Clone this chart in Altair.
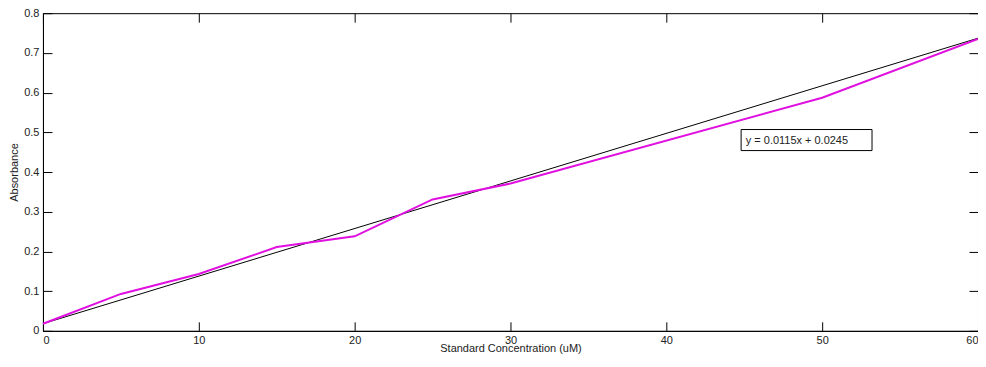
import altair as alt
import pandas as pd

# Measured standard curve (magenta)
conc = [0, 5, 10, 15, 20, 25, 30, 50, 60]
absorb = [0.018, 0.093, 0.143, 0.211, 0.238, 0.331, 0.371, 0.587, 0.735]

# Fitted straight line (black), as drawn
fit_x = [0, 60]
fit_y = [0.018, 0.737]

# Equation annotation
note_text = ["y = 0.0115x + 0.0245"]
note_x = [45.1]
note_y = [0.479]
box_x1 = [44.8]
box_x2 = [53.2]
box_y1 = [0.454]
box_y2 = [0.507]

x_ticks = [0, 10, 20, 30, 40, 50, 60]
y_ticks = [0, 0.1, 0.2, 0.3, 0.4, 0.5, 0.6, 0.7, 0.8]

W, H = 936, 318
FONT = "Liberation Sans"

meas = pd.DataFrame({"x": conc, "y": absorb})
fit = pd.DataFrame({"x": fit_x, "y": fit_y})
note = pd.DataFrame({"x": note_x, "y": note_y, "t": note_text,
                     "x1": box_x1, "x2": box_x2, "y1": box_y1, "y2": box_y2})

xs = alt.Scale(domain=[0, 60], nice=False, zero=False)
ys = alt.Scale(domain=[0, 0.8], nice=False, zero=False)

main_x_axis = alt.Axis(values=x_ticks, format="d", ticks=False, grid=False,
                       domainColor="black", labelPadding=4, labelFont=FONT,
                       labelFontSize=11, labelColor="#222", title="Standard Concentration (uM)",
                       titleFont=FONT, titleFontSize=11, titleFontWeight="normal",
                       titleColor="#222", titlePadding=-3)
main_y_axis = alt.Axis(values=y_ticks, format=".1~f", ticks=False, grid=False,
                       domainColor="black", labelPadding=4, labelFont=FONT,
                       labelFontSize=11, labelColor="#222", title="Absorbance",
                       titleFont=FONT, titleFontSize=11, titleFontWeight="normal",
                       titleColor="#222", titlePadding=4)


def tick_axis(values, orient, offset):
    return alt.Axis(values=values, orient=orient, offset=offset, labels=False,
                    domain=False, grid=False, ticks=True, tickSize=9,
                    tickColor="black", tickWidth=1, title=None)


fit_layer = alt.Chart(fit).mark_line(color="black", strokeWidth=1).encode(
    x=alt.X("x:Q", scale=xs, axis=main_x_axis),
    y=alt.Y("y:Q", scale=ys, axis=main_y_axis),
)

meas_layer = alt.Chart(meas).mark_line(color="#e010e0", strokeWidth=2).encode(
    x=alt.X("x:Q", scale=xs, axis=tick_axis(x_ticks, "bottom", -H)),
    y=alt.Y("y:Q", scale=ys, axis=tick_axis(y_ticks, "left", -W)),
)

box_layer = alt.Chart(note).mark_rect(fill="white", stroke="black", strokeWidth=1).encode(
    x=alt.X("x1:Q", scale=xs, axis=tick_axis(x_ticks, "top", -H)),
    x2="x2:Q",
    y=alt.Y("y1:Q", scale=ys, axis=tick_axis(y_ticks, "right", -W)),
    y2="y2:Q",
)

text_layer = alt.Chart(note).mark_text(align="left", baseline="middle", font=FONT,
                                       fontSize=11, color="#222").encode(
    x=alt.X("x:Q", scale=xs, axis=None),
    y=alt.Y("y:Q", scale=ys, axis=None),
    text="t:N",
)

chart = alt.layer(fit_layer, meas_layer, box_layer, text_layer).resolve_axis(
    x="independent", y="independent"
).properties(
    width=W, height=H,
    autosize=alt.AutoSizeParams(type="none"),
    padding={"left": 35, "top": 5, "right": 0, "bottom": 26},
).configure_view(stroke="black", strokeWidth=1)

chart.save("out.html", embed_options={"renderer": "svg", "actions": False})
